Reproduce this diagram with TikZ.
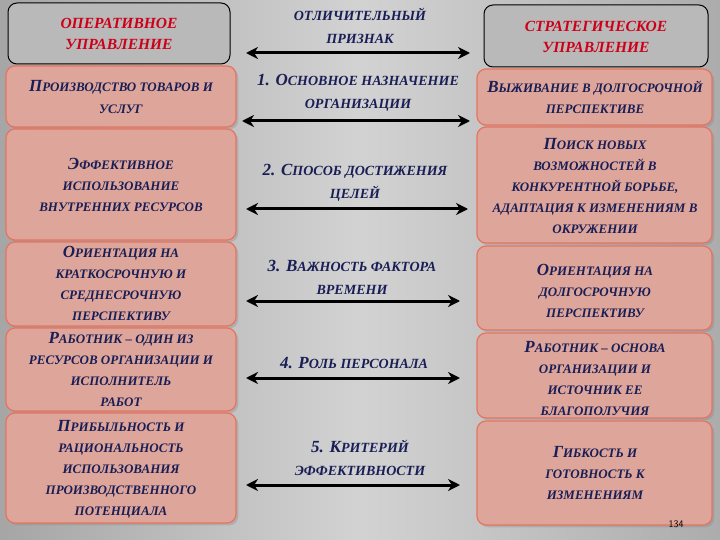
\documentclass[tikz,border=0pt]{standalone}
\usepackage{fontspec}
\setmainfont{Liberation Serif}
\usetikzlibrary{arrows.meta,shadows}
\definecolor{navy}{RGB}{25,30,85}
\definecolor{hred}{RGB}{205,0,25}
\definecolor{pinkf}{RGB}{222,165,155}
\definecolor{pinkd}{RGB}{232,115,95}
\newcommand{\B}[1]{{\fontsize{17}{18}\selectfont #1}}
\begin{document}
\begin{tikzpicture}[x=1pt,y=-1pt,
  box/.style={draw=pinkd,line width=1.2pt,fill=pinkf,rounded corners=9pt,drop shadow={opacity=0.3}},
  hbox/.style={draw=black,line width=1pt,fill=gray!55,rounded corners=9pt},
  txt/.style={text=navy,font=\bfseries\itshape\fontsize{13}{21}\selectfont,align=center},
  htxt/.style={text=hred,font=\bfseries\itshape\fontsize{15.5}{21}\selectfont,align=center},
  mtxt/.style={text=navy,font=\bfseries\itshape\fontsize{14}{23}\selectfont,align=center},
  arr/.style={{Stealth[length=12pt,width=12pt]}-{Stealth[length=12pt,width=12pt]},line width=3pt,black}]
\shade[left color=gray!70,right color=gray!35] (0,0) rectangle (360,540);
\shade[left color=gray!35,right color=gray!65] (360,0) rectangle (720,540);
\useasboundingbox (0,0) rectangle (720,540);
% left
\draw[hbox] (8,3) rectangle (230,64);
\node[htxt] (lh) at (119,34) {ОПЕРАТИВНОЕ\\УПРАВЛЕНИЕ};
\draw[box] (6,127) rectangle (236,66);
\draw[box] (6,240) rectangle (236,129);
\draw[box] (6,326) rectangle (236,242);
\draw[box] (6,411) rectangle (236,328);
\draw[box] (6,523) rectangle (236,413);
\node[txt] (l1) at (121,97) {\B{П}РОИЗВОДСТВО ТОВАРОВ И\\УСЛУГ};
\node[txt] (l2) at (121,185) {\B{Э}ФФЕКТИВНОЕ\\ИСПОЛЬЗОВАНИЕ\\ВНУТРЕННИХ РЕСУРСОВ};
\node[txt] (l3) at (121,283) {\B{О}РИЕНТАЦИЯ НА\\КРАТКОСРОЧНУЮ И\\СРЕДНЕСРОЧНУЮ\\ПЕРСПЕКТИВУ};
\node[txt] (l4) at (121,369) {\B{Р}АБОТНИК – ОДИН ИЗ\\РЕСУРСОВ ОРГАНИЗАЦИИ И\\ИСПОЛНИТЕЛЬ\\РАБОТ};
\node[txt] (l5) at (121,469) {\B{П}РИБЫЛЬНОСТЬ И\\РАЦИОНАЛЬНОСТЬ\\ИСПОЛЬЗОВАНИЯ\\ПРОИЗВОДСТВЕННОГО\\ПОТЕНЦИАЛА};
% right
\draw[hbox] (484,5) rectangle (708,67);
\node[htxt] (rh) at (596,37) {СТРАТЕГИЧЕСКОЕ\\УПРАВЛЕНИЕ};
\draw[box] (477,125) rectangle (712,69);
\draw[box] (477,243) rectangle (712,127);
\draw[box] (477,330) rectangle (712,246);
\draw[box] (477,418) rectangle (712,333);
\draw[box] (477,525) rectangle (712,421);
\node[txt] (r1) at (595,97) {\B{В}ЫЖИВАНИЕ В ДОЛГОСРОЧНОЙ\\ПЕРСПЕКТИВЕ};
\node[txt] (r2) at (595,186) {\B{П}ОИСК НОВЫХ\\ВОЗМОЖНОСТЕЙ В\\КОНКУРЕНТНОЙ БОРЬБЕ,\\АДАПТАЦИЯ К ИЗМЕНЕНИЯМ В\\ОКРУЖЕНИИ};
\node[txt] (r3) at (595,291) {\B{О}РИЕНТАЦИЯ НА\\ДОЛГОСРОЧНУЮ\\ПЕРСПЕКТИВУ};
\node[txt] (r4) at (595,378) {\B{Р}АБОТНИК – ОСНОВА\\ОРГАНИЗАЦИИ И\\ИСТОЧНИК ЕЕ\\БЛАГОПОЛУЧИЯ};
\node[txt] (r5) at (595,473) {\B{Г}ИБКОСТЬ И\\ГОТОВНОСТЬ К\\ИЗМЕНЕНИЯМ};
\node[font=\fontsize{10}{10}\selectfont\sffamily,text=black] (pg) at (676,524) {134};
% middle
\node[mtxt] (mh) at (360,26) {ОТЛИЧИТЕЛЬНЫЙ\\ПРИЗНАК};
\node[mtxt] (m1) at (358,93) {\B{1. О}СНОВНОЕ НАЗНАЧЕНИЕ\\ОРГАНИЗАЦИИ};
\node[mtxt] (m2) at (355,183) {\B{2. С}ПОСОБ ДОСТИЖЕНИЯ\\ЦЕЛЕЙ};
\node[mtxt] (m3) at (352,277) {\B{3. В}АЖНОСТЬ ФАКТОРА\\ВРЕМЕНИ};
\node[mtxt] (m4) at (354,363) {\B{4. Р}ОЛЬ ПЕРСОНАЛА};
\node[mtxt] (m5) at (360,458) {\B{5. К}РИТЕРИЙ\\ЭФФЕКТИВНОСТИ};
\coordinate (a0l) at (246,53); \coordinate (a0r) at (470,53);
\coordinate (a1l) at (242,121); \coordinate (a1r) at (470,121);
\coordinate (a2l) at (246,209); \coordinate (a2r) at (468,209);
\coordinate (a3l) at (246,301); \coordinate (a3r) at (460,301);
\coordinate (a4l) at (246,378); \coordinate (a4r) at (460,378);
\coordinate (a5l) at (246,485); \coordinate (a5r) at (460,485);
\foreach \i in {0,...,5} \draw[arr] (a\i l) -- (a\i r);
\end{tikzpicture}
\end{document}
